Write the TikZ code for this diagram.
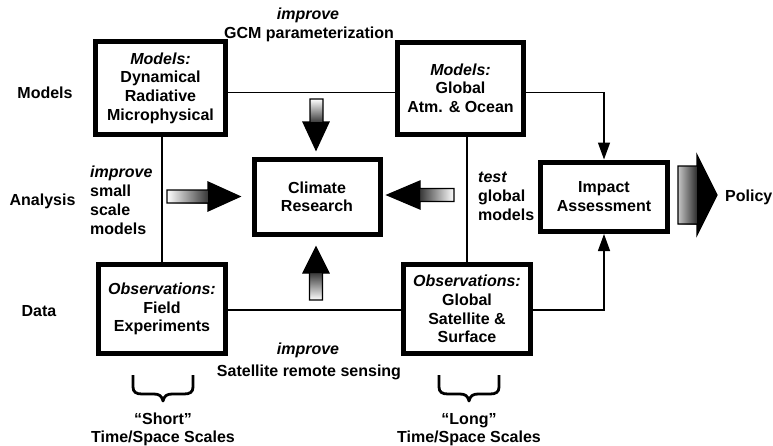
\documentclass[tikz,border=0pt]{standalone}
\usepackage{fontspec}
\setmainfont{Liberation Sans}
\usetikzlibrary{arrows.meta}
\newcommand\diafont{\fontsize{16}{18.7}\selectfont\bfseries}
\tikzset{
  box/.style={draw, line width=5pt, align=center, font=\diafont, inner sep=2pt},
  lab/.style={inner sep=0pt, font=\diafont},
  conn/.style={line width=1.3pt},
  tip/.style={-{Triangle[length=17pt,width=12pt]}},
  fatline/.style={line width=1.2pt, line join=miter},
  bracestyle/.style={line width=2.8pt, line join=round}
}
\begin{document}
\begin{tikzpicture}[x=1pt,y=-1pt]
\useasboundingbox (0,0) rectangle (773,445);
\fill[white] (0,0) rectangle (773,445);

% boxes
\node[box, minimum width=130pt, minimum height=93pt] (b1) at (160.5,88)
  {{\itshape Models:}\\Dynamical\\Radiative\\Microphysical};
\node[box, minimum width=126pt, minimum height=92.5pt] (b2) at (460.5,88.25)
  {{\itshape Models:}\\Global\\Atm. \& Ocean};
\node[box, minimum width=126pt, minimum height=75.5pt] (cr) at (317,196.75)
  {Climate\\Research};
\node[box, minimum width=127pt, minimum height=69.5pt] (ia) at (604,196.75)
  {Impact\\Assessment};
\node[box, minimum width=127pt, minimum height=89pt] (of) at (162,309)
  {{\itshape Observations:}\\Field\\Experiments};
\node[box, minimum width=127pt, minimum height=89pt] (og) at (467,309)
  {{\itshape Observations:}\\Global\\Satellite \&\\Surface};

% connectors
\draw[conn] ([yshift=-4.5pt]b1.east) -- ([yshift=-4.5pt]b1.east -| b2.west);
\draw[conn,tip] ([yshift=-4.5pt]b2.east) -| (ia.north);
\draw[conn] (of.north) -- (of.north |- b1.south);
\draw[conn] (og.north) -- (og.north |- b2.south);
\draw[conn] ([yshift=-1pt]of.east) -- ([yshift=-1pt]og.west);
\draw[conn,tip] ([yshift=-1pt]og.east) -| (ia.south);

% fat arrow: down (top)
\shade[top color=white, bottom color=black!80] (310,99) rectangle (323,123);
\fill (303,122) -- (329,122) -- (316,150) -- cycle;
\draw[fatline] (310,122) -- (310,99) -- (323,99) -- (323,122) -- (329,122) -- (316,150) -- (303,122) -- cycle;
% fat arrow: up (bottom)
\shade[top color=black!80, bottom color=white] (309.5,272) rectangle (322.5,300);
\fill (303,273) -- (329,273) -- (316,247) -- cycle;
\draw[fatline] (309.5,273) -- (309.5,300) -- (322.5,300) -- (322.5,273) -- (329,273) -- (316,247) -- (303,273) -- cycle;
% fat arrow: right (left side)
\shade[left color=white, right color=black!80] (167,190) rectangle (209,203);
\fill (208,182) -- (240,196.5) -- (208,211) -- cycle;
\draw[fatline] (208,190) -- (167,190) -- (167,203) -- (208,203) -- (208,211) -- (240,196.5) -- (208,182) -- cycle;
% fat arrow: left (right side)
\shade[left color=black!80, right color=white] (419,188.5) rectangle (454,201.5);
\fill (420,181) -- (387,195) -- (420,209) -- cycle;
\draw[fatline] (420,188.5) -- (454,188.5) -- (454,201.5) -- (420,201.5) -- (420,209) -- (387,195) -- (420,181) -- cycle;
% policy arrow
\shade[left color=gray!45, right color=black!85] (678,166) rectangle (698,224);
\fill (697,155) -- (717,195) -- (697,235) -- cycle;
\draw[fatline] (697,166) -- (678,166) -- (678,224) -- (697,224) -- (697,235) -- (717,195) -- (697,155) -- cycle;

% braces
\draw[bracestyle] (133,375) -- (133,387) .. controls (133,392) and (136,394) .. (142,394)
  -- (154,394) .. controls (159,394) and (162,396) .. (163,401)
  .. controls (164,396) and (167,394) .. (172,394) -- (184,394)
  .. controls (190,394) and (193,392) .. (193,387) -- (193,375);
\begin{scope}[xshift=306pt]
\draw[bracestyle] (133,375) -- (133,387) .. controls (133,392) and (136,394) .. (142,394)
  -- (154,394) .. controls (159,394) and (162,396) .. (163,401)
  .. controls (164,396) and (167,394) .. (172,394) -- (184,394)
  .. controls (190,394) and (193,392) .. (193,387) -- (193,375);
\end{scope}

% labels
\node[lab, anchor=base] (t1) at (308,19.5) {\itshape improve};
\node[lab, anchor=base] (t2) at (309,38) {GCM parameterization};
\node[lab, anchor=base] (lm) at (45,98.5) {Models};
\node[lab, anchor=base] (la) at (42.5,205) {Analysis};
\node[lab, anchor=base] (ld) at (39,316.5) {Data};
\node[lab, anchor=base west, align=left] (ls) at (90,234)
  {{\itshape improve}\\small\\scale\\models};
\node[lab, anchor=base west, align=left] (rt) at (478,220)
  {{\itshape test}\\global\\models};
\node[lab, anchor=base west] (pol) at (725,201.5) {Policy};
\node[lab, anchor=base] (b1t) at (308,354) {\itshape improve};
\node[lab, anchor=base] (b2t) at (309,376) {Satellite remote sensing};
\node[lab, anchor=base] (s1) at (163,424) {“Short”};
\node[lab, anchor=base] (s2) at (163,442.5) {Time/Space Scales};
\node[lab, anchor=base] (l1) at (469,424) {“Long”};
\node[lab, anchor=base] (l2) at (469,442.5) {Time/Space Scales};
\end{tikzpicture}
\end{document}
